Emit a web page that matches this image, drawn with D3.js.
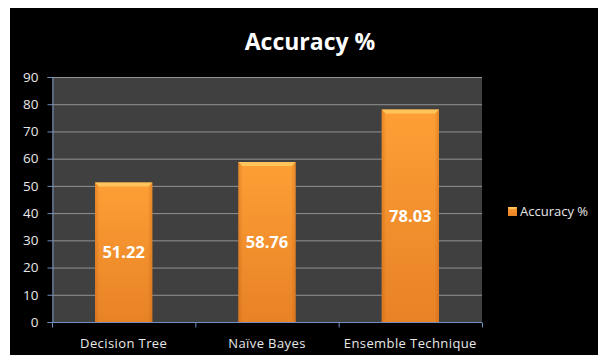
<!DOCTYPE html>
<html>
<head>
<meta charset="utf-8">
<script src="https://cdn.jsdelivr.net/npm/d3@7"></script>
<style>
  html, body { margin: 0; padding: 0; background: #ffffff; }
  svg { display: block; }
</style>
</head>
<body>
<svg id="chart" width="598" height="355"></svg>
<script>
const categories = ["Decision Tree", "Naïve Bayes", "Ensemble Technique"];
const accuracy = [51.22, 58.76, 78.03];
const yTicks = [0, 10, 20, 30, 40, 50, 60, 70, 80, 90];
const seriesName = "Accuracy %";
const chartTitle = "Accuracy %";

const svg = d3.select("#chart");
const W = 598, H = 355;
const font = "'Open Sans', 'Noto Sans', sans-serif";

// black chart area inside a thin white margin
svg.append("rect").attr("x", 10).attr("y", 8).attr("width", W - 10).attr("height", H - 8).attr("fill", "#000");

const plot = { left: 52, right: 482, top: 77, bottom: 322 };

const x = d3.scaleBand().domain(categories).range([plot.left, plot.right])
  .paddingInner(0.6).paddingOuter(0.3);
const xCat = d3.scaleBand().domain(categories).range([plot.left, plot.right]);
const y = d3.scaleLinear().domain([0, 90]).range([plot.bottom, plot.top]);

const defs = svg.append("defs");
const vg = defs.append("linearGradient").attr("id", "barV").attr("x1", 0).attr("y1", 0).attr("x2", 0).attr("y2", 1);
vg.append("stop").attr("offset", "0%").attr("stop-color", "#fd9f35");
vg.append("stop").attr("offset", "100%").attr("stop-color", "#e88226");
const hg = defs.append("linearGradient").attr("id", "barH").attr("x1", 0).attr("y1", 0).attr("x2", 1).attr("y2", 0);
hg.append("stop").attr("offset", "0%").attr("stop-color", "#b85a10").attr("stop-opacity", 0.35);
hg.append("stop").attr("offset", "8%").attr("stop-color", "#b85a10").attr("stop-opacity", 0);
hg.append("stop").attr("offset", "92%").attr("stop-color", "#b85a10").attr("stop-opacity", 0);
hg.append("stop").attr("offset", "100%").attr("stop-color", "#b85a10").attr("stop-opacity", 0.35);

// plot background
svg.append("rect").attr("x", plot.left).attr("y", plot.top)
  .attr("width", plot.right - plot.left).attr("height", plot.bottom - plot.top)
  .attr("fill", "#404040");

// gridlines
svg.append("g").selectAll("line").data(yTicks.filter(d => d > 0)).join("line")
  .attr("x1", plot.left).attr("x2", plot.right)
  .attr("y1", d => y(d) + 0.5).attr("y2", d => y(d) + 0.5)
  .attr("stroke", "#929292").attr("stroke-width", 1);

// y axis
const yAxis = svg.append("g").attr("transform", `translate(${plot.left + 0.5},0)`)
  .call(d3.axisLeft(y).tickValues(yTicks).tickSize(5).tickPadding(9).tickFormat(d3.format("d")));
yAxis.select(".domain").attr("stroke", "#6f8fbf");
yAxis.selectAll(".tick line").attr("stroke", "#6f8fbf");
yAxis.selectAll("text").attr("fill", "#e8e8e8").attr("font-size", 13.5).attr("font-family", font);

// bars
const bars = svg.append("g").selectAll("g").data(categories).join("g");
bars.append("rect")
  .attr("x", d => x(d)).attr("width", x.bandwidth())
  .attr("y", (d, i) => y(accuracy[i])).attr("height", (d, i) => y(0) - y(accuracy[i]))
  .attr("fill", "url(#barV)");
bars.append("rect")
  .attr("x", d => x(d)).attr("width", x.bandwidth())
  .attr("y", (d, i) => y(accuracy[i])).attr("height", (d, i) => y(0) - y(accuracy[i]))
  .attr("fill", "url(#barH)");
// top bevel
bars.append("path")
  .attr("d", (d, i) => {
    const x0 = x(d), x1 = x(d) + x.bandwidth(), t = y(accuracy[i]);
    return `M${x0},${t}L${x1},${t}L${x1 - 4},${t + 4}L${x0 + 4},${t + 4}Z`;
  })
  .attr("fill", "#ffc45a");
// value labels
bars.append("text")
  .attr("x", d => x(d) + x.bandwidth() / 2)
  .attr("y", (d, i) => (y(accuracy[i]) + y(0)) / 2)
  .attr("dy", "0.35em").attr("text-anchor", "middle")
  .attr("fill", "#ffffff").attr("font-weight", "bold").attr("font-size", 16.5).attr("font-family", font)
  .text((d, i) => d3.format(".2f")(accuracy[i]));

// x axis
const xAxis = svg.append("g").attr("transform", `translate(0,${plot.bottom + 0.5})`);
xAxis.append("line").attr("x1", plot.left).attr("x2", plot.right).attr("stroke", "#6f8fbf");
const bounds = [plot.left, ...categories.map(c => xCat(c) + xCat.bandwidth())];
xAxis.selectAll(".tk").data(bounds).join("line").attr("class", "tk")
  .attr("x1", d => d + 0.5).attr("x2", d => d + 0.5).attr("y1", 0).attr("y2", 5)
  .attr("stroke", "#6f8fbf");
xAxis.selectAll("text").data(categories).join("text")
  .attr("x", d => xCat(d) + xCat.bandwidth() / 2).attr("y", 25)
  .attr("text-anchor", "middle").attr("fill", "#e8e8e8")
  .attr("font-size", 13).attr("letter-spacing", 0.4).attr("font-family", font).text(d => d);

// title
svg.append("text").attr("x", 310).attr("y", 50).attr("text-anchor", "middle")
  .attr("fill", "#ffffff").attr("font-weight", "bold").attr("font-size", 23).attr("font-family", font)
  .text(chartTitle);

// legend
const lg = svg.append("g").attr("transform", "translate(508,207)");
lg.append("rect").attr("width", 9).attr("height", 9).attr("fill", "url(#barV)");
lg.append("path").attr("d", "M0,0L9,0L7,2L2,2Z").attr("fill", "#ffc45a");
lg.append("text").attr("x", 12).attr("y", 4.5).attr("dy", "0.35em")
  .attr("fill", "#e8e8e8").attr("font-size", 13).attr("font-family", font).text(seriesName);
</script>
</body>
</html>
